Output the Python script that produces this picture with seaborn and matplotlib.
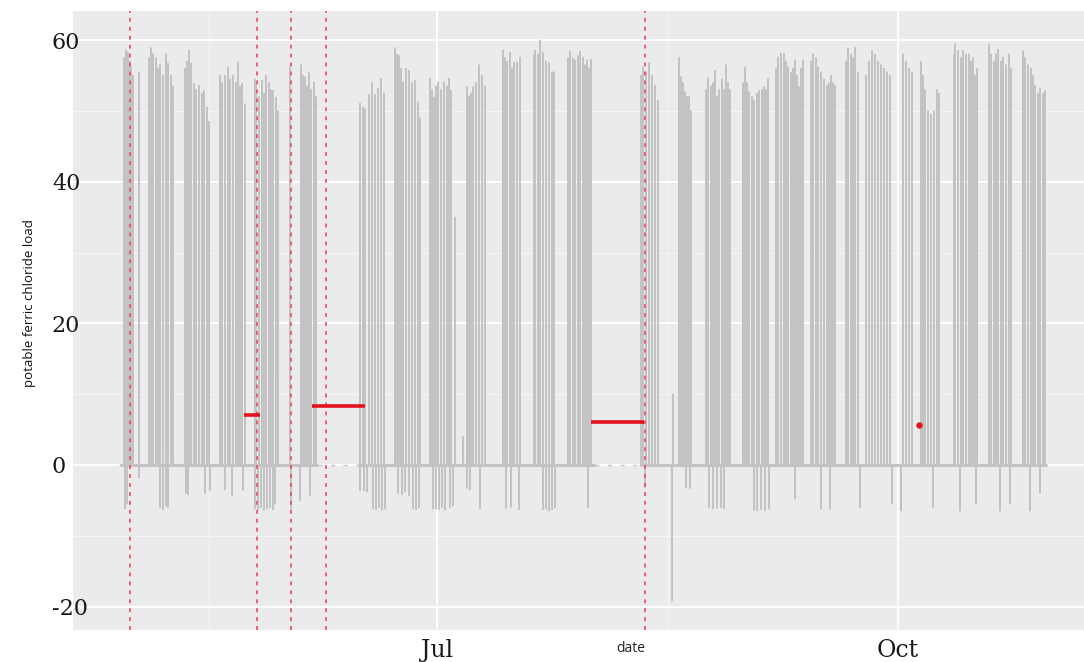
import numpy as np
import pandas as pd
import matplotlib
matplotlib.use("Agg")
import matplotlib.pyplot as plt
import matplotlib.dates as mdates
from matplotlib.ticker import MultipleLocator, FixedLocator
import seaborn as sns

# ---- data -------------------------------------------------------------
# Dosing pulses: fractional day of year (2021) and load reached
pulse_day = [
    119.53, 119.93, 120.33, 120.73, 120.93, 121.33, 122.53,
    124.51, 124.91, 125.31, 125.91, 126.31, 126.71, 127.31, 127.91, 128.31, 128.91, 129.31,
    131.71, 132.11, 132.51, 132.91, 133.51, 133.91, 134.51, 135.09, 135.49, 136.09, 136.49,
    138.69, 139.09, 139.69, 140.29, 140.69, 141.29, 141.89, 142.29, 142.69, 143.09, 143.69,
    145.69, 145.89, 146.49, 147.06, 147.46, 147.86, 148.46, 148.86, 149.26, 149.86, 150.26,
    152.66,
    154.86, 155.26, 155.66, 156.06, 156.46, 156.86, 157.46, 157.86,
    166.64, 167.24, 167.64, 168.44, 169.04, 169.64, 170.24, 170.81, 171.41,
    173.61, 174.01, 174.41, 174.81, 175.21, 175.81, 176.41, 177.01, 177.61, 178.21, 178.61,
    180.61, 181.01, 181.41, 181.81, 182.21, 182.78, 183.38, 183.98, 184.38, 184.78,
    185.58, 187.18,
    187.98, 188.38, 188.78, 189.18, 189.78, 190.38, 190.98, 191.58,
    195.16, 195.56, 195.96, 196.56, 196.96, 197.36, 197.96, 198.56,
    201.36, 201.56, 202.16, 202.56, 203.16, 203.76, 204.36, 204.96, 205.36,
    208.13, 208.53, 209.13, 209.53, 210.13, 210.53, 211.13, 211.53, 211.93, 212.33, 212.73,
    222.70, 223.10, 223.70, 224.30, 224.90, 225.50, 226.10,
    229.10,
    230.30, 230.69, 231.09, 231.49, 231.89, 232.29, 232.69,
    235.68, 236.08, 236.68, 237.08, 237.48, 237.88, 238.28, 238.88, 239.28, 239.68, 240.08, 240.48,
    243.05, 243.45, 243.85, 244.25, 244.85, 245.25, 245.85, 246.25, 246.85, 247.25, 247.65, 248.05,
    249.65, 250.05, 250.65, 251.25, 251.65, 252.05, 252.65, 253.05, 253.45, 253.85, 254.25, 254.63, 255.03,
    256.63, 257.03, 257.63, 258.03, 258.63, 259.23, 259.83, 260.23, 260.63, 261.03, 261.43,
    263.63, 264.03, 264.63, 265.03, 265.43, 266.03,
    267.60, 268.20, 268.80, 269.40, 270.00, 270.60, 271.20, 271.80, 272.40,
    275.00, 275.60, 276.20, 276.80,
    278.57, 278.97, 279.37, 279.97, 280.57, 281.17, 281.77, 282.17,
    285.17, 285.37, 285.97, 286.57, 286.97, 287.57, 288.17, 288.57, 288.97, 289.37, 289.77,
    292.14, 292.54, 293.14, 293.54, 293.94, 294.54, 294.94, 295.54, 296.14, 296.54,
    298.94, 299.34, 299.94, 300.54, 300.94, 301.34, 301.94, 302.34, 302.94, 303.34,
]
pulse_load = [
    57.5, 58.6, 58.3, 57.0, 56.2, 55.0, 55.5,
    57.5, 58.9, 58.1, 57.5, 56.0, 56.5, 55.0, 58.1, 56.7, 55.0, 53.5,
    56.0, 57.0, 58.6, 56.7, 53.9, 53.0, 53.6, 52.5, 52.9, 50.5, 48.5,
    55.0, 54.0, 55.0, 56.2, 54.5, 55.0, 54.0, 56.9, 53.5, 53.9, 51.0,
    54.5, 53.6, 52.0, 54.3, 52.5, 55.0, 54.0, 53.0, 52.9, 51.9, 50.0,
    56.2,
    56.5, 55.0, 54.8, 53.5, 55.5, 53.0, 54.1, 52.0,
    51.1, 50.5, 50.3, 52.3, 54.0, 52.3, 53.2, 54.6, 52.5,
    58.9, 58.0, 57.8, 56.0, 54.1, 56.0, 55.7, 54.0, 54.3, 51.3, 49.0,
    54.6, 53.0, 51.9, 53.5, 54.1, 53.0, 54.1, 53.5, 54.6, 52.9,
    35.0, 4.0,
    53.4, 52.1, 52.5, 53.4, 54.0, 56.5, 55.0, 53.5,
    58.6, 57.5, 57.0, 58.3, 56.0, 56.9, 56.9, 57.6,
    58.0, 58.6, 58.0, 60.0, 58.3, 57.0, 56.8, 55.5, 55.5,
    57.5, 58.4, 57.5, 57.2, 57.8, 58.4, 57.6, 56.5, 57.2, 56.0, 57.3,
    55.0, 56.2, 55.5, 56.8, 55.0, 53.6, 51.5,
    10.0,
    57.5, 54.8, 54.0, 52.7, 52.0, 52.0, 50.0,
    53.0, 54.6, 53.5, 54.0, 55.7, 52.0, 53.0, 54.5, 53.0, 56.5, 54.0, 53.0,
    54.0, 56.2, 54.0, 52.7, 52.0, 51.5, 52.5, 52.9, 53.0, 53.4, 53.0, 54.6,
    56.0, 57.6, 58.1, 58.1, 57.0, 56.2, 55.4, 56.0, 57.2, 55.0, 53.4, 56.0, 57.2,
    57.0, 58.1, 57.5, 56.2, 55.5, 54.5, 53.6, 54.0, 55.0, 54.0, 53.6,
    57.0, 58.8, 58.0, 57.5, 59.0, 55.4,
    55.0, 57.0, 58.5, 58.0, 57.0, 56.5, 56.0, 55.5, 55.0,
    58.0, 57.0, 56.0, 55.5,
    57.0, 55.0, 53.0, 50.0, 49.5, 50.0, 53.0, 52.5,
    58.0, 59.5, 58.5, 57.5, 58.5, 58.0, 58.0, 57.0, 57.5, 55.0, 56.0,
    59.4, 58.0, 57.0, 58.0, 58.7, 57.0, 57.6, 56.5, 58.0, 56.0,
    58.5, 57.5, 56.5, 56.0, 55.0, 53.6, 52.5, 53.2, 52.5, 52.9,
]

# Negative readings (flow reversal) - day of year and load
dip_day = [
    119.73, 120.13, 122.53, 126.71, 127.31, 127.91, 128.31, 131.91, 132.31, 135.69,
    136.69, 139.69, 141.09, 143.29, 145.69, 146.29, 146.89, 147.46, 148.06, 148.66,
    149.26, 149.66, 152.86, 154.66, 156.66, 166.64, 167.44, 168.04, 169.24, 169.84,
    170.44, 171.01, 171.61, 174.21, 175.01, 175.61, 176.41, 177.21, 177.81, 178.41,
    181.21, 181.81, 182.41, 182.98, 183.58, 184.58, 185.18, 187.98, 188.58, 190.58,
    195.76, 196.76, 198.36, 203.16, 203.76, 204.36, 204.96, 205.56, 212.13, 223.50,
    228.90, 231.69, 232.49, 236.28, 237.08, 237.88, 238.68, 239.28, 245.25, 245.85,
    246.65, 247.45, 248.25, 253.45, 258.63, 260.43, 266.43, 272.80, 274.60, 280.97,
    286.37, 289.57, 294.34, 296.34, 300.34, 302.34,
]
dip_load = [
    -6.2, -5.5, -1.8, -6.0, -6.3, -5.8, -6.0, -4.0, -4.2, -4.0,
    -3.6, -3.5, -4.3, -3.6, -6.2, -6.3, -6.0, -6.4, -6.2, -6.0,
    -6.3, -5.5, -6.2, -5.0, -4.3, -3.6, -3.6, -3.8, -6.2, -6.3,
    -6.0, -6.4, -6.2, -4.0, -4.2, -3.8, -4.3, -6.2, -6.3, -6.0,
    -6.2, -6.2, -6.3, -6.0, -6.4, -6.0, -5.8, -3.3, -3.5, -6.2,
    -6.1, -6.0, -6.3, -6.3, -6.2, -6.5, -6.3, -6.0, -6.0, -3.2,
    -19.2, -3.2, -3.3, -6.0, -6.2, -6.1, -6.0, -6.2, -6.4, -6.5,
    -6.3, -6.5, -6.2, -4.8, -6.2, -6.2, -6.0, -5.5, -6.5, -6.0,
    -6.5, -5.5, -6.5, -5.5, -6.5, -4.0,
]

record_start, record_end = 118.74, 303.73
offline_start = [158.26, 213.53]
offline_end = [166.24, 222.50]

# Recorded events (dashed verticals)
event_day = [120.73, 146.09, 152.86, 159.84, 223.50]

# Mean load over sampled intervals
mean_start = [143.49, 157.06, 212.73, 278.17]
mean_end = [146.69, 167.64, 223.30, 278.17]
mean_load = [7.1, 8.3, 6.05, 5.7]

YEAR0 = pd.Timestamp("2021-01-01")


def to_date(days):
    return YEAR0 + pd.to_timedelta(np.asarray(days, dtype=float) - 1.0, unit="D")


# ---- assemble the continuous record ----------------------------------
half = 0.04
pts = [(record_start, 0.0), (record_end, 0.0)]
for s, e in zip(offline_start, offline_end):
    pts += [(s, 0.0), (e, 0.0)]
for d, v in zip(pulse_day + dip_day, pulse_load + dip_load):
    pts += [(d - half, 0.0), (d, v), (d + half, 0.0)]
series = pd.DataFrame(pts, columns=["day", "load"]).sort_values("day", kind="stable")
series["run"] = np.searchsorted(np.array(offline_end), series["day"].to_numpy(), side="right")
series["date"] = to_date(series["day"])

# ---- figure -----------------------------------------------------------
sns.set_theme(style="darkgrid", rc={
    "axes.facecolor": "#EBEBEB",
    "grid.color": "white",
    "axes.edgecolor": "none",
})
plt.rcParams["axes.unicode_minus"] = False

W, H = 1084, 662
fig = plt.figure(figsize=(W / 100, H / 100), dpi=100)
ax_left, ax_right, ax_top, ax_bot = 73, 1189, 11, 630
ax = fig.add_axes([ax_left / W, (H - ax_bot) / H, (ax_right - ax_left) / W, (ax_bot - ax_top) / H])

line_grey = "#c3c3c3"

# thicker zero line while the sensor is logging
run_edges = [record_start] + [v for pair in zip(offline_start, offline_end) for v in pair] + [record_end]
for s, e in zip(run_edges[0::2], run_edges[1::2]):
    ax.hlines(0, to_date([s])[0], to_date([e])[0], colors=line_grey, linewidth=2.2)

sns.lineplot(data=series, x="date", y="load", units="run", estimator=None, sort=False,
             color=line_grey, linewidth=0.9, ax=ax)

for s, e in zip(offline_start, offline_end):
    ax.hlines(0, to_date([s])[0], to_date([e])[0], colors="#c8c8c8", linewidth=1.0,
              linestyles=(0, (3, 6)))

for d in event_day:
    ax.axvline(to_date([d])[0], color="#ea4a56", linewidth=1.4, linestyle=(0, (2, 2.6)), alpha=0.85)

for s, e, v in zip(mean_start, mean_end, mean_load):
    if e > s:
        ax.plot(to_date([s, e]), [v, v], color="#e3131d", linewidth=2.6, solid_capstyle="butt")
    else:
        ax.plot(to_date([s]), [v], "o", color="#e3131d", markersize=3.6)

# ---- axes -------------------------------------------------------------
ax.set_xlim(to_date([109.36])[0], to_date([332.07])[0])
ax.set_ylim(-23.3, 64.1)

ax.yaxis.set_major_locator(FixedLocator([-20, 0, 20, 40, 60]))
ax.yaxis.set_minor_locator(MultipleLocator(10))
ax.xaxis.set_major_locator(mdates.MonthLocator(bymonth=[1, 4, 7, 10]))
ax.xaxis.set_major_formatter(mdates.DateFormatter("%b"))
ax.xaxis.set_minor_locator(FixedLocator(mdates.date2num(
    [pd.Timestamp("2021-02-14"), pd.Timestamp("2021-05-16 12:00"),
     pd.Timestamp("2021-08-16"), pd.Timestamp("2021-11-15 12:00")])))

ax.grid(which="major", color="white", linewidth=1.4)
ax.grid(which="minor", color="#f6f6f6", linewidth=0.7)

ax.tick_params(axis="both", which="major", length=2.2, width=0.8, color="#555555")
ax.tick_params(axis="both", which="minor", length=0)
ax.tick_params(axis="y", pad=13)
ax.tick_params(axis="x", pad=4)

for lab in ax.get_yticklabels():
    lab.set_horizontalalignment("left")
    lab.set_fontfamily("DejaVu Serif")
    lab.set_fontsize(16)
    lab.set_color("#1a1a1a")
for lab in ax.get_xticklabels():
    lab.set_fontfamily("DejaVu Serif")
    lab.set_fontsize(17)
    lab.set_color("#1a1a1a")

ax.set_xlabel("date", fontsize=10, fontfamily="Open Sans", color="#222222")
ax.xaxis.set_label_coords(0.5, -0.018)
ax.set_ylabel("potable ferric chloride load", fontsize=9.5, fontfamily="Open Sans", color="#111111")
ax.yaxis.set_label_coords(-0.033, 0.528)

for sp in ax.spines.values():
    sp.set_visible(False)

fig.savefig("out.png", dpi=100)
